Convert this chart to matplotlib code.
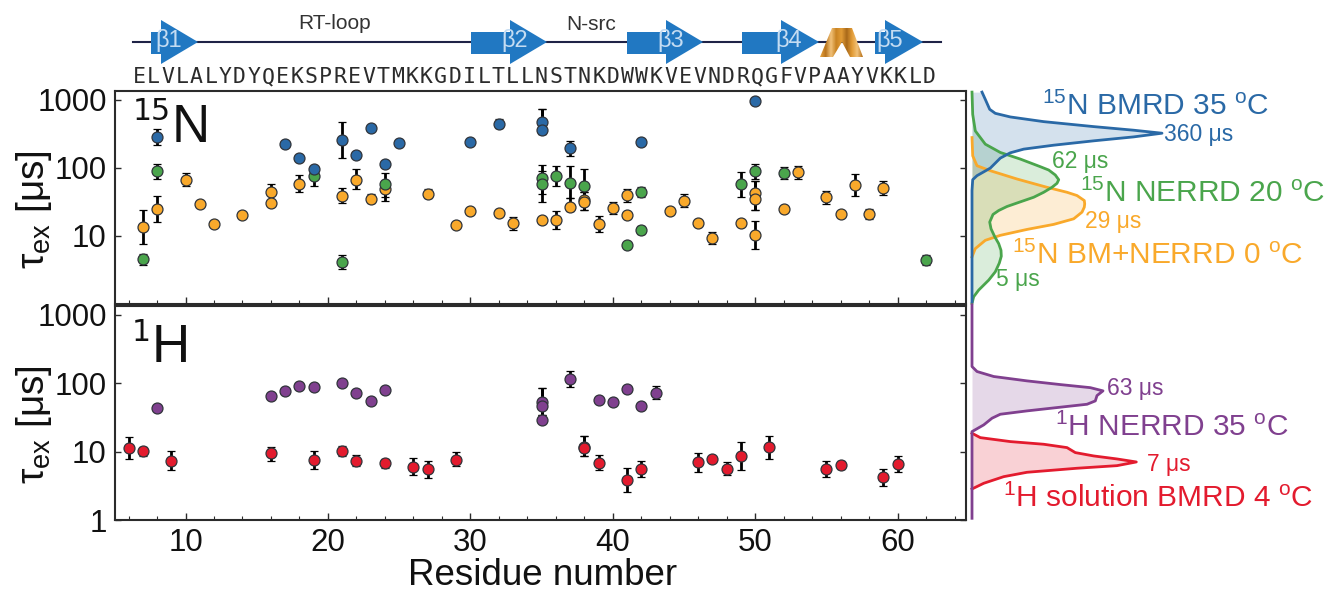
import numpy as np
import matplotlib
matplotlib.use("Agg")
import matplotlib.pyplot as plt
from matplotlib.patches import Polygon
from matplotlib.colors import LinearSegmentedColormap

plt.rcParams['font.family'] = ['Liberation Sans', 'DejaVu Sans']
plt.rcParams['mathtext.fontset'] = 'custom'
plt.rcParams['mathtext.rm'] = 'Liberation Sans'
plt.rcParams['mathtext.it'] = 'Liberation Sans:italic'
plt.rcParams['mathtext.bf'] = 'Liberation Sans:bold'
plt.rcParams['mathtext.default'] = 'regular'

n = np.nan
# ---- 15N panel
orange_res = [7,8,10,11,12,14,16,16,18,21,22,23,24,27,29,30,32,33,35,36,37,38,38,39,40,41,41,44,45,46,47,49,50,50,50,52,53,55,56,57,58,59]
orange_tau = [13.5,25,67,29,15,20,44,31,59,39,67,35,49,42,14.3,23,21.4,15.4,17,17,27,34,32,14.8,25.6,40,20.5,23.5,33,15.6,9.2,15.3,43,35,10.4,25,86,37,21,57,21,50]
orange_lo  = [7.7,16,55,n,n,n,31,n,44,30,49,30,33,36,n,n,n,12.4,n,12.6,23,24,24,11.4,21,32,n,n,26.5,n,7.5,n,24,24,6.5,n,69,29,n,39,17.5,40]
orange_hi  = [24,39,83,n,n,n,58,n,80,51,95,42,65,49,n,n,n,19,n,23,36,44,44,19.4,32,49,n,n,41,n,11.3,n,65,65,16.7,n,108,46,n,81,25,64]

green_res = [7,8,19,21,24,35,35,36,37,38,41,42,42,49,50,52,62]
green_tau = [4.55,90,75,4.2,59,70,59,77,61,55,7.3,44,12.2,58,89,83,4.4]
green_lo  = [3.8,69,54,3.3,38,42,32,55,36,33,n,37,10.8,38,69,68,3.7]
green_hi  = [5.5,115,93,5.3,85,112,90,107,105,98,n,53,14,88,114,103,5.2]

blue_res = [8,17,18,19,21,22,23,24,25,30,32,35,35,37,42,50]
blue_tau = [286,228,140,96,256,157,391,115,234,239,448,479,366,193,241,970]
blue_lo  = [218,n,n,n,142,n,n,n,n,n,380,313,313,149,n,n]
blue_hi  = [370,n,n,n,469,n,n,n,n,n,530,741,741,250,n,n]

# ---- 1H panel
purple_res = [8,16,17,18,19,21,22,23,24,35,35,35,37,39,40,41,42,43]
purple_tau = [44,65,77,90,88,102,71,55,81,53,47,29,116,56,53,82,47,72]
purple_lo  = [n,n,n,n,n,n,n,n,n,34,34,n,87,n,n,n,n,58]
purple_hi  = [n,n,n,n,n,n,n,n,n,85,85,n,152,n,n,n,n,90]

red_res = [6,7,9,16,19,21,22,24,26,27,29,38,38,39,41,42,46,47,48,49,51,55,56,59,60]
red_tau = [11.4,10.1,7.3,9.5,7.6,10.3,7.4,6.8,6,5.5,7.6,11.8,11.2,6.9,3.9,5.5,7,7.7,5.6,8.7,11.6,5.6,6.4,4.2,6.7]
red_lo  = [7.9,8.6,5.3,7.4,5.6,8.7,6.2,5.7,4.5,4.1,6.2,8.7,8.7,5.3,2.6,4.2,5.1,n,4.5,5.3,7.9,4.3,5.5,3.1,5.0]
red_hi  = [16.6,11.8,10.1,11.8,10.3,12.1,9,7.9,8,7.2,9.8,17,17,9,5.7,7.3,9.5,n,7.1,14,16.8,7.2,7.3,5.6,8.7]

# ---- distributions at the right (log10 tau, height)
blue_logt = [3.114,3.007,2.861,2.802,2.749,2.680,2.607,2.554,2.510,2.456,2.398,2.334,2.276,2.222,2.144,1.997,1.886,1.827,1.667,0.034]
blue_dens = [10,13.3,17.7,23.3,38.3,71.7,121.7,161.7,190,161.7,121.7,81.7,51.7,38.3,28.3,18.3,5,0.7,0,0]
green_logt = [3.114,2.787,2.544,2.349,2.227,2.130,2.018,1.969,1.896,1.827,1.774,1.715,1.642,1.569,1.501,1.433,1.374,1.316,1.204,1.106,0.990,0.887,0.789,0.702,0.601,0.473,0.351,0.205,0.107,0.010]
green_dens = [0,0.7,3.3,13.3,28.3,48.3,68.3,76.7,83.3,86.7,85,80,71.7,61.7,48.3,35,26.7,21,17.7,19,22.7,26.7,29,29.3,27.3,23.3,16.7,6.7,1.7,0]
orange_logt = [2.446,2.178,2.032,1.959,1.837,1.715,1.642,1.594,1.520,1.472,1.423,1.350,1.252,1.170,1.096,1.009,0.936,0.814,0.692]
orange_dens = [0,0.7,5,18.3,45,75,95,105,112.3,112.7,112.3,110,101.7,81.7,55,28.3,13.3,3.3,0]
purple_logt = [3.148,2.245,2.172,2.099,2.035,1.981,1.936,1.889,1.820,1.742,1.693,1.650,1.596,1.547,1.489,1.391,1.293,0.025]
purple_dens = [0,0,5,21.7,55,88.3,118.3,131,125,123.3,115,88.3,55,28.3,20,11.7,0,0]
red_logt = [1.269,1.205,1.147,1.108,1.059,0.986,0.937,0.893,0.849,0.795,0.757,0.698,0.634,0.537,0.454]
red_dens = [0,8.3,38.3,71.7,95,103.3,121.7,145,164.3,145,105,55,31.7,11.7,0]

sequence = "ELVLALYDYQEKSPREVTMKKGDILTLLNSTNKDWWKVEVNDRQGFVPAAYVKKLD"
strand_names = ['β1','β2','β3','β4','β5']
strand_start = [151,471,627,742,875]
strand_neck  = [161,510,666,781,885]
strand_end   = [198,547,703,819,923]
strand_label = [169,515,671,789,890]
xticks = [10,20,30,40,50,60]
yticks = [1,10,100,1000]

C_BLUE, C_GREEN, C_ORANGE = '#2a69a6', '#4aa54c', '#f9a92b'
C_PURPLE, C_RED = '#80408f', '#e31b2e'
DARK = '#2b2b2b'

W, H = 1328, 593
fig = plt.figure(figsize=(W/100, H/100), dpi=100)

def axpx(l, t, r, b, **kw):
    return fig.add_axes([l/W, 1-b/H, (r-l)/W, (b-t)/H], **kw)

ax1 = axpx(115, 91, 966, 304)
ax2 = axpx(115, 306, 966, 520)

def series(ax, res, tau, lo, hi, col):
    res, tau, lo, hi = map(lambda a: np.array(a, float), (res, tau, lo, hi))
    err = np.vstack([tau-lo, hi-tau])
    ax.errorbar(res, tau, yerr=err, fmt='o', ms=7.9, mfc=col, mec='#30343a', mew=0.9,
                ecolor='black', elinewidth=2.0, capsize=3, capthick=2.2, zorder=3)

series(ax1, orange_res, orange_tau, orange_lo, orange_hi, C_ORANGE)
series(ax1, green_res, green_tau, green_lo, green_hi, C_GREEN)
series(ax1, blue_res, blue_tau, blue_lo, blue_hi, C_BLUE)
series(ax2, purple_res, purple_tau, purple_lo, purple_hi, C_PURPLE)
series(ax2, red_res, red_tau, red_lo, red_hi, C_RED)

for ax in (ax1, ax2):
    ax.set_yscale('log')
    ax.set_ylim(1, 1350)
    ax.set_xlim(5.05, 64.8)
    ax.set_xticks(xticks)
    ax.set_xticks(range(6, 65, 2), minor=True)
    ax.set_yticks(yticks)
    ax.set_yticklabels([str(t) for t in yticks], fontsize=22.5)
    ax.yaxis.set_minor_locator(matplotlib.ticker.NullLocator())
    ax.tick_params(axis='x', which='major', direction='in', length=5, width=1, color=DARK)
    ax.tick_params(axis='x', which='minor', direction='in', length=3, width=0.8, color=DARK)
    ax.tick_params(axis='y', which='major', direction='in', length=4, width=1, color=DARK,
                   right=True, pad=6, labelcolor='#111111')
    for s in ax.spines.values():
        s.set_linewidth(1.5)
        s.set_color(DARK)
ax1.tick_params(axis='x', labelbottom=False)
# the upper panel carries no label at its lowest tick
ax1.set_yticklabels(['' if t == 1 else str(t) for t in yticks], fontsize=22.5)
ax2.set_xticklabels([str(t) for t in xticks], fontsize=22.5, color='#111111')
ax2.tick_params(axis='x', which='major', pad=6)

# distributions
def dist(ax, logt, dens, col):
    t = 10**np.array(logt)
    ax.fill_betweenx(t, 0, dens, color=col, alpha=0.2, lw=0)
    ax.plot(dens, t, color=col, lw=2.0, solid_joinstyle='round', clip_on=False)

side1 = axpx(972, 91, 1328, 304)
side2 = axpx(972, 306, 1328, 520)
for ax in (side1, side2):
    ax.set_yscale('log')
    ax.set_ylim(1, 1350)
    ax.set_xlim(0, 356)
    ax.axis('off')
    ax.patch.set_alpha(0)
dist(side1, orange_logt, orange_dens, C_ORANGE)
dist(side1, green_logt, green_dens, C_GREEN)
dist(side1, blue_logt, blue_dens, C_BLUE)
dist(side2, red_logt, red_dens, C_RED)
dist(side2, purple_logt, purple_dens, C_PURPLE)

# overlay in pixel coordinates
ov = fig.add_axes([0, 0, 1, 1], zorder=10)
ov.set_xlim(0, W); ov.set_ylim(H, 0); ov.axis('off'); ov.patch.set_alpha(0)

ov.plot([133, 941], [42, 42], color='#1f2347', lw=1.5, zorder=1)
for name, a, b, c, lx in zip(strand_names, strand_start, strand_neck, strand_end, strand_label):
    ov.add_patch(Polygon([(a,32),(b,32),(b,20),(c,42),(b,64),(b,54),(a,54)], closed=True,
                         fc='#2178c2', ec='none', zorder=2))
    ov.text(lx, 41, name, color='#c4dcf2', fontsize=17, ha='center', va='center', zorder=3)

# helix
cm = LinearSegmentedColormap.from_list('h', ['#e9a540', '#b8731c', '#f2c27a', '#c98424', '#e29c36', '#a9691a', '#e29c36', '#f2c27a', '#b8731c'])
im = ov.imshow(np.linspace(0, 1, 60)[None, :], extent=(820, 863, 57, 28), cmap=cm, aspect='auto', zorder=2)
poly = Polygon([(820,57),(832,28),(852,28),(863,57),(850,57),(842,42),(833,57)], closed=True,
               fc='none', ec='none', transform=ov.transData)
ov.add_patch(poly)
im.set_clip_path(poly)
ov.set_xlim(0, W); ov.set_ylim(H, 0)

ov.text(335, 29, 'RT-loop', fontsize=15, color='#333333', ha='center', va='baseline')
ov.text(591, 30, 'N-src', fontsize=15, color='#333333', ha='center', va='baseline')

for i, ch in enumerate(sequence):
    ov.text(139 + i*14.37, 83, ch, family='DejaVu Sans Mono', fontsize=15.5, color='#2b2b2b',
            ha='center', va='baseline')

# element labels
ov.text(133, 120, '15', family='DejaVu Sans', fontsize=21.5, color='#111111', va='baseline')
ov.text(172, 142, 'N', fontsize=38, color='#111111', va='baseline')
ov.text(132, 341, '1', family='DejaVu Sans', fontsize=21.5, color='#111111', va='baseline')
ov.text(152, 362, 'H', fontsize=38, color='#111111', va='baseline')

ov.text(34, 210, 'τ$_{ex}$ [μs]', fontsize=28, rotation=90, ha='center', va='center', color='#111111')
ov.text(34, 425, 'τ$_{ex}$ [μs]', fontsize=28, rotation=90, ha='center', va='center', color='#111111')
ov.text(543, 585, 'Residue number', fontsize=26.5, ha='center', va='baseline', color='#111111')

labels = [
    (1042, 115, '$^{15}$N BMRD 35 $^{o}$C', 21.5, C_BLUE),
    (1164, 141, '360 μs', 16.5, C_BLUE),
    (1052, 168, '62 μs', 16.5, C_GREEN),
    (1080, 202, '$^{15}$N NERRD 20 $^{o}$C', 21.5, C_GREEN),
    (1085, 228, '29 μs', 16.5, C_ORANGE),
    (1012, 264, '$^{15}$N BM+NERRD 0 $^{o}$C', 21.5, C_ORANGE),
    (996, 286, '5 μs', 16.5, C_GREEN),
    (1107, 395, '63 μs', 16.5, C_PURPLE),
    (1055, 436, '$^{1}$H NERRD 35 $^{o}$C', 21.5, C_PURPLE),
    (1147, 471, '7 μs', 16.5, C_RED),
    (1003, 507, '$^{1}$H solution BMRD 4 $^{o}$C', 21.5, C_RED),
]
for x, y, s, fs, c in labels:
    ov.text(x, y, s, fontsize=fs, color=c, ha='left', va='baseline')

fig.savefig('out.png', dpi=100)
